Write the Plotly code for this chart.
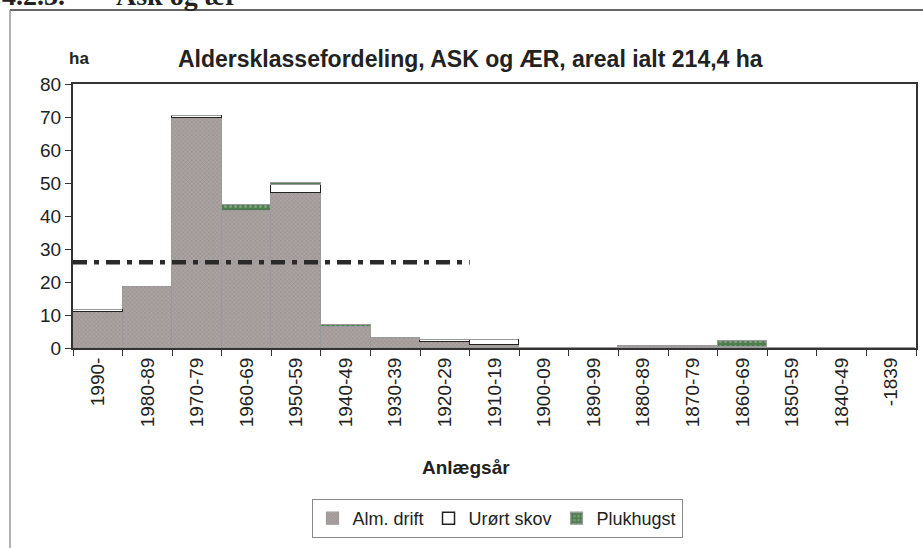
import plotly.graph_objects as go

# Age classes (planting year) and area in ha
age_classes = [
    "1990-", "1980-89", "1970-79", "1960-69", "1950-59", "1940-49",
    "1930-39", "1920-29", "1910-19", "1900-09", "1890-99", "1880-89",
    "1870-79", "1860-69", "1850-59", "1840-49", "-1839",
]
alm_drift = [10.9, 18.6, 69.7, 41.5, 47.0, 6.5, 2.9, 1.8, 1.0, 0, 0, 0.6, 0.5, 0.3, 0, 0, 0]
urort_skov = [0.6, 0, 0.6, 0, 2.4, 0, 0, 0.6, 1.4, 0, 0, 0, 0, 0, 0, 0, 0]
plukhugst = [0, 0, 0, 1.8, 0.6, 0.6, 0, 0, 0, 0, 0, 0, 0, 1.9, 0, 0, 0]

# normal area per age class, drawn over the first 8 classes
norm_area = 26.0
norm_classes = 8

W, H = 923, 548
L, R, T, B = 73, 916, 84, 348  # plot area in pixels


def px_x(p):
    return (p - L) / (R - L)


def px_y(p):
    return (B - p) / (B - T)


fig = go.Figure()
fig.add_trace(go.Bar(
    x=age_classes, y=alm_drift, name="Alm. drift",
    marker=dict(
        color="#aaa3a1",
        line=dict(color="#9a9a9a", width=1.2),
        pattern=dict(shape="x", fgcolor="#7d7573", size=3, solidity=0.3),
    ),
))
fig.add_trace(go.Bar(
    x=age_classes, y=urort_skov, name="Urørt skov",
    marker=dict(color="white", line=dict(color="#222222", width=1.5)),
))
fig.add_trace(go.Bar(
    x=age_classes, y=plukhugst, name="Plukhugst",
    marker=dict(
        color="#4f7d4f",
        line=dict(color="#9a9a9a", width=1.2),
        pattern=dict(shape=".", fgcolor="#a8c4a8", size=5, solidity=0.3),
    ),
))

# dash-dot reference line
fig.add_shape(
    type="line", xref="x", yref="y",
    x0=-0.5, x1=norm_classes - 0.5, y0=norm_area, y1=norm_area,
    line=dict(color="#2a2a2a", width=4.5, dash="14px,7px,5px,7px"),
)

# outer frame of the chart (cut by the page)
fig.add_shape(type="line", xref="paper", yref="paper",
              x0=px_x(10), x1=px_x(930), y0=px_y(10), y1=px_y(10),
              line=dict(color="#333333", width=1.5))
fig.add_shape(type="line", xref="paper", yref="paper",
              x0=px_x(10), x1=px_x(10), y0=px_y(10), y1=px_y(560),
              line=dict(color="#999999", width=1.5))

annotations = [
    dict(text="<b>Aldersklassefordeling, ASK og ÆR, areal ialt 214,4 ha</b>",
         x=px_x(470), y=px_y(59), font=dict(size=23, color="#222222")),
    dict(text="<b>ha</b>", x=px_x(79), y=px_y(58), font=dict(size=17, color="#222222")),
    dict(text="<b>Anlægsår</b>", x=px_x(466), y=px_y(467), font=dict(size=19, color="#222222")),
    dict(text="<b>4.2.3.</b>", x=px_x(0), y=px_y(13), xanchor="left", yanchor="bottom",
         font=dict(size=28, color="#222222", family="Liberation Serif")),
    dict(text="<b>Ask og ær</b>", x=px_x(114), y=px_y(13), xanchor="left", yanchor="bottom",
         font=dict(size=28, color="#222222", family="Liberation Serif")),
]
for a in annotations:
    a.update(xref="paper", yref="paper", showarrow=False)
    a.setdefault("xanchor", "center")
    a.setdefault("yanchor", "middle")

fig.update_layout(
    width=W, height=H,
    margin=dict(l=L, r=W - R, t=T, b=H - B, pad=0, autoexpand=False),
    barmode="stack", bargap=0,
    plot_bgcolor="white", paper_bgcolor="white",
    font=dict(family="Liberation Sans, Arial", color="#222222"),
    annotations=annotations,
    showlegend=True,
    legend=dict(
        orientation="h", traceorder="normal",
        x=px_x(497), xanchor="center", y=px_y(499), yanchor="top",
        font=dict(size=18, color="#222222"),
        bordercolor="#888888", borderwidth=1,
        itemwidth=30, tracegroupgap=0,
    ),
)
fig.update_xaxes(
    type="category", tickson="boundaries", tickangle=-90,
    showline=True, linecolor="#333333", linewidth=2, mirror=True,
    ticks="outside", ticklen=6, tickcolor="#333333", tickwidth=1,
    tickfont=dict(size=19, color="#222222"), showgrid=False,
    range=[-0.5, len(age_classes) - 0.5],
)
fig.update_yaxes(
    range=[0, 80], dtick=10,
    showline=True, linecolor="#333333", linewidth=2, mirror=True,
    ticks="outside", ticklen=6, tickcolor="#333333", tickwidth=1,
    tickfont=dict(size=19, color="#222222"), showgrid=False, zeroline=False,
)

# the page's default body margin would shift the figure by 8px
fig.write_html(
    "out.html",
    config={"displayModeBar": False},
    post_script="document.body.style.margin='0';document.body.style.overflow='hidden';",
)
